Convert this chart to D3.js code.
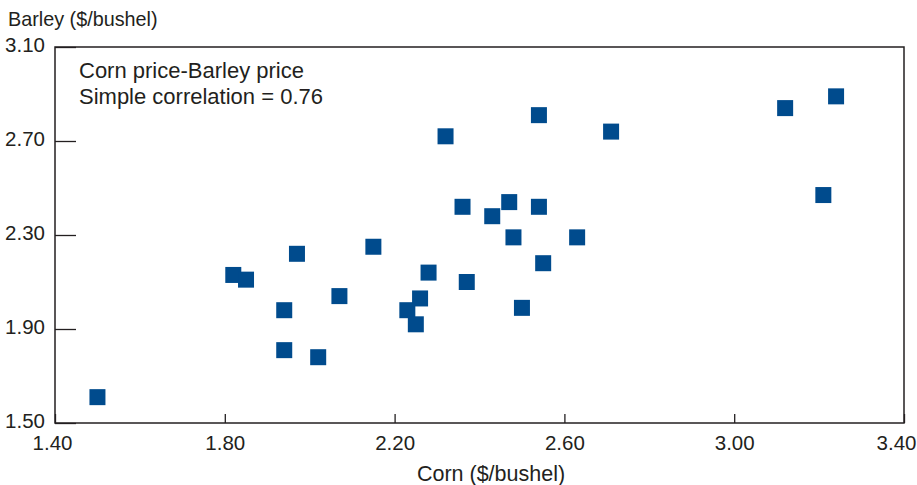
<!DOCTYPE html>
<html>
<head>
<meta charset="utf-8">
<script src="https://cdn.jsdelivr.net/npm/d3@7"></script>
<style>
  body { margin: 0; background: #fff; }
  #chart text { font-family: "Liberation Sans", Arial, sans-serif; fill: #231f20; }
  .domain { display: none; }
</style>
</head>
<body>
<div id="chart"></div>
<script>
// Corn and barley prices ($/bushel), one square per year
const corn   = [1.50, 1.82, 1.85, 1.97, 1.94, 1.94, 2.02, 2.07, 2.15, 2.23, 2.25, 2.26, 2.28, 2.32,
                2.36, 2.37, 2.43, 2.47, 2.48, 2.50, 2.54, 2.54, 2.55, 2.63, 2.71, 3.12, 3.21, 3.24];
const barley = [1.61, 2.13, 2.11, 2.22, 1.98, 1.81, 1.78, 2.04, 2.25, 1.98, 1.92, 2.03, 2.14, 2.72,
                2.42, 2.10, 2.38, 2.44, 2.29, 1.99, 2.81, 2.42, 2.18, 2.29, 2.74, 2.84, 2.47, 2.89];
const xTicks = [1.40, 1.80, 2.20, 2.60, 3.00, 3.40];
const yTicks = [1.50, 1.90, 2.30, 2.70, 3.10];
const noteLines = ["Corn price-Barley price", "Simple correlation = 0.76"];

const margin = { top: 47, right: 13, bottom: 62, left: 55 };
const width = 917 - margin.left - margin.right;
const height = 485 - margin.top - margin.bottom;

const data = corn.map((c, i) => ({ corn: c, barley: barley[i] }));

const svg = d3.select("#chart")
    .append("svg")
    .attr("width", 917)
    .attr("height", 485);

const g = svg.append("g")
    .attr("transform", `translate(${margin.left},${margin.top})`);

const x = d3.scaleLinear().domain([1.40, 3.40]).range([0, width]);
const y = d3.scaleLinear().domain([1.50, 3.10]).range([height, 0]);

// axes with inward ticks
const xAxis = g.append("g")
    .attr("transform", `translate(0,${height})`)
    .call(d3.axisBottom(x).tickValues(xTicks).tickFormat(d3.format(".2f"))
        .tickSize(-9).tickPadding(12));

const yAxis = g.append("g")
    .call(d3.axisLeft(y).tickValues(yTicks).tickFormat(d3.format(".2f"))
        .tickSize(-21).tickPadding(10));

[xAxis, yAxis].forEach(a => {
    a.selectAll("line").attr("stroke", "#231f20").attr("stroke-width", 1.3);
    a.selectAll("text").style("font-size", "20.5px");
});
yAxis.selectAll("text").attr("dy", null).attr("y", 4);

// nudge the end labels so they stay inside the picture
xAxis.selectAll("text").attr("dx", (d, i) => i === 0 ? -3 : (i === xTicks.length - 1 ? -8 : 0));

// plot frame
g.append("rect")
    .attr("width", width)
    .attr("height", height)
    .attr("fill", "none")
    .attr("stroke", "#231f20")
    .attr("stroke-width", 1.5);

// squares
const s = 16;
g.selectAll(".pt")
    .data(data)
    .join("rect")
    .attr("class", "pt")
    .attr("x", d => x(d.corn) - s / 2)
    .attr("y", d => y(d.barley) - s / 2)
    .attr("width", s)
    .attr("height", s)
    .attr("fill", "#004b8d");

// note
g.append("text")
    .attr("x", 24)
    .attr("y", 31)
    .style("font-size", "22px")
    .selectAll("tspan")
    .data(noteLines)
    .join("tspan")
    .attr("x", 24)
    .attr("dy", (d, i) => i === 0 ? 0 : 25.5)
    .text(d => d);

// axis titles
svg.append("text")
    .attr("x", 8)
    .attr("y", 26)
    .style("font-size", "19.8px")
    .text("Barley ($/bushel)");

svg.append("text")
    .attr("x", 491)
    .attr("y", 481)
    .attr("text-anchor", "middle")
    .style("font-size", "21.5px")
    .text("Corn ($/bushel)");
</script>
</body>
</html>
